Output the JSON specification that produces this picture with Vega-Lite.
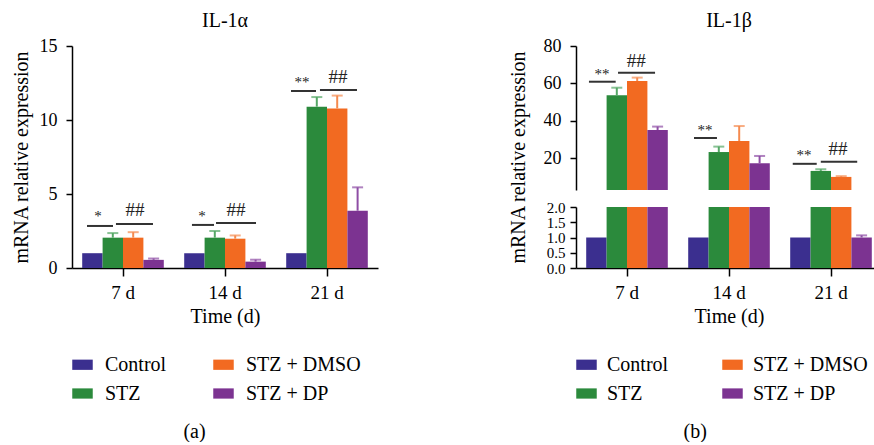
{
  "$schema": "https://vega.github.io/schema/vega-lite/v6.json",
  "padding": {"left": 11, "top": 11, "right": 0, "bottom": 0},
  "background": "white",
  "datasets": {
    "bars": [
      {"panel": "a", "time": "7 d", "group": "Control", "value": 1, "upper": 1},
      {"panel": "a", "time": "7 d", "group": "STZ", "value": 2.05, "upper": 2.36},
      {"panel": "a", "time": "7 d", "group": "STZ + DMSO", "value": 2.05, "upper": 2.42},
      {"panel": "a", "time": "7 d", "group": "STZ + DP", "value": 0.55, "upper": 0.64},
      {"panel": "a", "time": "14 d", "group": "Control", "value": 1, "upper": 1},
      {"panel": "a", "time": "14 d", "group": "STZ", "value": 2.05, "upper": 2.5},
      {"panel": "a", "time": "14 d", "group": "STZ + DMSO", "value": 1.98, "upper": 2.2},
      {"panel": "a", "time": "14 d", "group": "STZ + DP", "value": 0.43, "upper": 0.56},
      {"panel": "a", "time": "21 d", "group": "Control", "value": 1, "upper": 1},
      {"panel": "a", "time": "21 d", "group": "STZ", "value": 10.9, "upper": 11.55},
      {"panel": "a", "time": "21 d", "group": "STZ + DMSO", "value": 10.78, "upper": 11.65},
      {"panel": "a", "time": "21 d", "group": "STZ + DP", "value": 3.87, "upper": 5.45},
      {"panel": "b", "time": "7 d", "group": "Control", "value": 1, "upper": 1},
      {"panel": "b", "time": "7 d", "group": "STZ", "value": 53.6, "upper": 57.7},
      {"panel": "b", "time": "7 d", "group": "STZ + DMSO", "value": 61.3, "upper": 63.1},
      {"panel": "b", "time": "7 d", "group": "STZ + DP", "value": 35.1, "upper": 36.9},
      {"panel": "b", "time": "14 d", "group": "Control", "value": 1, "upper": 1},
      {"panel": "b", "time": "14 d", "group": "STZ", "value": 23.3, "upper": 26.2},
      {"panel": "b", "time": "14 d", "group": "STZ + DMSO", "value": 29.2, "upper": 37.2},
      {"panel": "b", "time": "14 d", "group": "STZ + DP", "value": 17.3, "upper": 21.2},
      {"panel": "b", "time": "21 d", "group": "Control", "value": 1, "upper": 1},
      {"panel": "b", "time": "21 d", "group": "STZ", "value": 13.2, "upper": 14.1},
      {"panel": "b", "time": "21 d", "group": "STZ + DMSO", "value": 10.0, "upper": 10.4},
      {"panel": "b", "time": "21 d", "group": "STZ + DP", "value": 1.0, "upper": 1.07}
    ],
    "lines": [
      {"panel": "a", "x1": 0.147, "x2": 0.402, "y": 2.84},
      {"panel": "a", "x1": 0.431, "x2": 0.794, "y": 2.97},
      {"panel": "a", "x1": 1.176, "x2": 1.392, "y": 2.91},
      {"panel": "a", "x1": 1.412, "x2": 1.804, "y": 3.04},
      {"panel": "a", "x1": 2.147, "x2": 2.392, "y": 11.96},
      {"panel": "a", "x1": 2.431, "x2": 2.794, "y": 12.03},
      {"panel": "b", "x1": 0.127, "x2": 0.389, "y": 60.9},
      {"panel": "b", "x1": 0.412, "x2": 0.775, "y": 65.7},
      {"panel": "b", "x1": 1.157, "x2": 1.382, "y": 30.8},
      {"panel": "b", "x1": 2.125, "x2": 2.36, "y": 17.0},
      {"panel": "b", "x1": 2.4, "x2": 2.757, "y": 18.1}
    ],
    "labels": [
      {"panel": "a", "kind": "star", "label": "*", "x": 0.255, "y": 3.18},
      {"panel": "a", "kind": "hash", "label": "##", "x": 0.618, "y": 3.51},
      {"panel": "a", "kind": "star", "label": "*", "x": 1.275, "y": 3.18},
      {"panel": "a", "kind": "hash", "label": "##", "x": 1.608, "y": 3.51},
      {"panel": "a", "kind": "star", "label": "**", "x": 2.255, "y": 12.23},
      {"panel": "a", "kind": "hash", "label": "##", "x": 2.608, "y": 12.53},
      {"panel": "b", "kind": "star", "label": "**", "x": 0.255, "y": 62.35},
      {"panel": "b", "kind": "hash", "label": "##", "x": 0.591, "y": 68.8},
      {"panel": "b", "kind": "star", "label": "**", "x": 1.265, "y": 32.4},
      {"panel": "b", "kind": "star", "label": "**", "x": 2.235, "y": 18.8},
      {"panel": "b", "kind": "hash", "label": "##", "x": 2.569, "y": 21.7}
    ]
  },
  "hconcat": [
    {
      "title": {"text": "(a)", "orient": "bottom", "offset": 18, "anchor": "middle"},
      "vconcat": [
        {
          "title": {"text": "IL-1α", "offset": 6},
          "width": 306,
          "height": 222,
          "layer": [
            {
              "data": {"name": "bars"},
              "transform": [{"filter": "datum.panel == 'a'"}],
              "layer": [
                {
                  "mark": {"type": "bar"},
                  "encoding": {
                    "x": {"field": "time", "type": "nominal", "sort": ["7 d", "14 d", "21 d"],
                      "scale": {"paddingInner": 0.2, "paddingOuter": 0.1},
                      "axis": {"labelAngle": 0, "title": "Time (d)", "labelPadding": 7, "titlePadding": 4, "tickSize": 8, "labelFontSize": 19, "labelFont": "Liberation Serif", "titleFont": "Liberation Serif"}},
                    "xOffset": {"field": "group", "type": "nominal", "sort": ["Control", "STZ", "STZ + DMSO", "STZ + DP"],
                      "scale": {"paddingInner": 0, "paddingOuter": 0}},
                    "y": {"field": "value", "type": "quantitative", "stack": null,
                      "scale": {"domain": [0, 15], "nice": false},
                      "axis": {"values": [0, 5, 10, 15], "title": "mRNA relative expression", "labelPadding": 9, "titlePadding": 8, "labelFlush": false, "labelFont": "Liberation Serif", "titleFont": "Liberation Serif"}},
                    "color": {"field": "group", "type": "nominal",
                      "scale": {"domain": ["Control", "STZ + DMSO", "STZ", "STZ + DP"], "range": ["#3b2f8f", "#f26a21", "#2b8a3c", "#7c3391"]},
                      "legend": {"columnPadding": 46, "labelFont": "Liberation Serif", "labelFontSize": 20}}
                  }
                },
                {
                  "transform": [{"filter": "datum.upper > datum.value"}],
                  "mark": {"type": "rule", "strokeWidth": 2},
                  "encoding": {
                    "x": {"field": "time", "type": "nominal", "sort": ["7 d", "14 d", "21 d"]},
                    "xOffset": {"field": "group", "type": "nominal", "sort": ["Control", "STZ", "STZ + DMSO", "STZ + DP"]},
                    "y": {"field": "value", "type": "quantitative"},
                    "y2": {"field": "upper"},
                    "stroke": {"field": "group", "type": "nominal",
                      "scale": {"domain": ["Control", "STZ", "STZ + DMSO", "STZ + DP"], "range": ["#3b2f8f", "#55a866", "#f58a4e", "#8e4ea5"]},
                      "legend": null}
                  }
                },
                {
                  "transform": [{"filter": "datum.upper > datum.value"}],
                  "mark": {"type": "tick", "thickness": 2, "size": 11},
                  "encoding": {
                    "x": {"field": "time", "type": "nominal", "sort": ["7 d", "14 d", "21 d"]},
                    "xOffset": {"field": "group", "type": "nominal", "sort": ["Control", "STZ", "STZ + DMSO", "STZ + DP"]},
                    "y": {"field": "upper", "type": "quantitative"},
                    "fill": {"field": "group", "type": "nominal",
                      "scale": {"domain": ["Control", "STZ", "STZ + DMSO", "STZ + DP"], "range": ["#3b2f8f", "#55a866", "#f58a4e", "#8e4ea5"]},
                      "legend": null}
                  }
                }
              ]
            },
            {
              "layer": [
                {
                  "data": {"name": "lines"},
                  "transform": [{"filter": "datum.panel == 'a'"}],
                  "mark": {"type": "rule", "strokeWidth": 2, "color": "#333333"},
                  "encoding": {
                    "x": {"field": "x1", "type": "quantitative", "scale": {"domain": [0, 3], "nice": false, "zero": false}, "axis": null},
                    "x2": {"field": "x2"},
                    "y": {"field": "y", "type": "quantitative"}
                  }
                },
                {
                  "data": {"name": "labels"},
                  "transform": [{"filter": "datum.panel == 'a' && datum.kind == 'star'"}],
                  "mark": {"type": "text", "fontSize": 15, "align": "center", "baseline": "alphabetic", "color": "#222222", "font": "Liberation Serif"},
                  "encoding": {
                    "x": {"field": "x", "type": "quantitative", "axis": null},
                    "y": {"field": "y", "type": "quantitative"},
                    "text": {"field": "label"}
                  }
                },
                {
                  "data": {"name": "labels"},
                  "transform": [{"filter": "datum.panel == 'a' && datum.kind == 'hash'"}],
                  "mark": {"type": "text", "fontSize": 19, "align": "center", "baseline": "alphabetic", "color": "#222222", "font": "Liberation Serif"},
                  "encoding": {
                    "x": {"field": "x", "type": "quantitative", "axis": null},
                    "y": {"field": "y", "type": "quantitative"},
                    "text": {"field": "label"}
                  }
                }
              ]
            }
          ],
          "resolve": {"scale": {"x": "independent"}}
        }
      ]
    },
    {
      "title": {"text": "(b)", "orient": "bottom", "offset": 18, "anchor": "middle"},
      "vconcat": [
        {
          "title": {"text": "IL-1β", "offset": 6},
          "width": 306,
          "height": 222,
          "layer": [
            {
              "data": {"name": "bars"},
              "transform": [{"filter": "datum.panel == 'b' && datum.value > 3"}],
              "layer": [
                {
                  "mark": {"type": "bar"},
                  "encoding": {
                    "x": {"field": "time", "type": "nominal", "sort": ["7 d", "14 d", "21 d"],
                      "scale": {"paddingInner": 0.2, "paddingOuter": 0.1}, "axis": null},
                    "xOffset": {"field": "group", "type": "nominal", "sort": ["Control", "STZ", "STZ + DMSO", "STZ + DP"],
                      "scale": {"domain": ["Control", "STZ", "STZ + DMSO", "STZ + DP"], "paddingInner": 0, "paddingOuter": 0}},
                    "y": {"field": "value", "type": "quantitative",
                      "scale": {"domain": [3, 80], "range": [144, 0], "nice": false, "zero": false, "clamp": true},
                      "axis": {"orient": "left", "values": [20, 40, 60, 80], "title": null, "labelPadding": 9, "labelFlush": false, "labelFont": "Liberation Serif"}},
                    "y2": {"datum": 3},
                    "color": {"field": "group", "type": "nominal",
                      "scale": {"domain": ["Control", "STZ + DMSO", "STZ", "STZ + DP"], "range": ["#3b2f8f", "#f26a21", "#2b8a3c", "#7c3391"]},
                      "legend": {"columnPadding": 53, "labelOffset": 10, "labelFont": "Liberation Serif", "labelFontSize": 20}}
                  }
                },
                {
                  "transform": [{"filter": "datum.upper > datum.value"}],
                  "mark": {"type": "rule", "strokeWidth": 2},
                  "encoding": {
                    "x": {"field": "time", "type": "nominal", "sort": ["7 d", "14 d", "21 d"]},
                    "xOffset": {"field": "group", "type": "nominal", "sort": ["Control", "STZ", "STZ + DMSO", "STZ + DP"]},
                    "y": {"field": "value", "type": "quantitative"},
                    "y2": {"field": "upper"},
                    "stroke": {"field": "group", "type": "nominal",
                      "scale": {"domain": ["Control", "STZ", "STZ + DMSO", "STZ + DP"], "range": ["#3b2f8f", "#55a866", "#f58a4e", "#8e4ea5"]},
                      "legend": null}
                  }
                },
                {
                  "transform": [{"filter": "datum.upper > datum.value"}],
                  "mark": {"type": "tick", "thickness": 2, "size": 11},
                  "encoding": {
                    "x": {"field": "time", "type": "nominal", "sort": ["7 d", "14 d", "21 d"]},
                    "xOffset": {"field": "group", "type": "nominal", "sort": ["Control", "STZ", "STZ + DMSO", "STZ + DP"]},
                    "y": {"field": "upper", "type": "quantitative"},
                    "fill": {"field": "group", "type": "nominal",
                      "scale": {"domain": ["Control", "STZ", "STZ + DMSO", "STZ + DP"], "range": ["#3b2f8f", "#55a866", "#f58a4e", "#8e4ea5"]},
                      "legend": null}
                  }
                }
              ]
            },
            {
              "data": {"name": "bars"},
              "transform": [{"filter": "datum.panel == 'b'"}],
              "layer": [
                {
                  "mark": {"type": "bar"},
                  "encoding": {
                    "x": {"field": "time", "type": "nominal", "sort": ["7 d", "14 d", "21 d"],
                      "scale": {"paddingInner": 0.2, "paddingOuter": 0.1},
                      "axis": {"orient": "bottom", "labelAngle": 0, "title": "Time (d)", "labelPadding": 7, "titlePadding": 4, "tickSize": 8, "labelFontSize": 19, "labelFont": "Liberation Serif", "titleFont": "Liberation Serif"}},
                    "xOffset": {"field": "group", "type": "nominal", "sort": ["Control", "STZ", "STZ + DMSO", "STZ + DP"],
                      "scale": {"paddingInner": 0, "paddingOuter": 0}},
                    "y": {"field": "value", "type": "quantitative",
                      "scale": {"domain": [0, 2], "range": [222, 161], "nice": false, "clamp": true},
                      "axis": {"orient": "left", "values": [0, 0.5, 1, 1.5, 2], "format": ".1f", "labelOverlap": false, "labelFlush": false, "labelPadding": 5, "labelFontSize": 15, "labelFont": "Liberation Serif",
                        "title": "mRNA relative expression", "titleFont": "Liberation Serif", "titlePadding": 18, "titleY": 111}},
                    "y2": {"datum": 0},
                    "color": {"field": "group", "type": "nominal",
                      "scale": {"domain": ["Control", "STZ + DMSO", "STZ", "STZ + DP"], "range": ["#3b2f8f", "#f26a21", "#2b8a3c", "#7c3391"]},
                      "legend": {"columnPadding": 53, "labelOffset": 10, "labelFont": "Liberation Serif", "labelFontSize": 20}}
                  }
                },
                {
                  "transform": [{"filter": "datum.upper > datum.value && datum.value <= 2"}],
                  "mark": {"type": "rule", "strokeWidth": 2},
                  "encoding": {
                    "x": {"field": "time", "type": "nominal", "sort": ["7 d", "14 d", "21 d"]},
                    "xOffset": {"field": "group", "type": "nominal", "sort": ["Control", "STZ", "STZ + DMSO", "STZ + DP"]},
                    "y": {"field": "value", "type": "quantitative"},
                    "y2": {"field": "upper"},
                    "stroke": {"field": "group", "type": "nominal",
                      "scale": {"domain": ["Control", "STZ", "STZ + DMSO", "STZ + DP"], "range": ["#3b2f8f", "#55a866", "#f58a4e", "#8e4ea5"]},
                      "legend": null}
                  }
                },
                {
                  "transform": [{"filter": "datum.upper > datum.value && datum.value <= 2"}],
                  "mark": {"type": "tick", "thickness": 2, "size": 11},
                  "encoding": {
                    "x": {"field": "time", "type": "nominal", "sort": ["7 d", "14 d", "21 d"]},
                    "xOffset": {"field": "group", "type": "nominal", "sort": ["Control", "STZ", "STZ + DMSO", "STZ + DP"]},
                    "y": {"field": "upper", "type": "quantitative"},
                    "fill": {"field": "group", "type": "nominal",
                      "scale": {"domain": ["Control", "STZ", "STZ + DMSO", "STZ + DP"], "range": ["#3b2f8f", "#55a866", "#f58a4e", "#8e4ea5"]},
                      "legend": null}
                  }
                }
              ]
            },
            {
              "layer": [
                {
                  "data": {"name": "lines"},
                  "transform": [{"filter": "datum.panel == 'b'"}],
                  "mark": {"type": "rule", "strokeWidth": 2, "color": "#333333"},
                  "encoding": {
                    "x": {"field": "x1", "type": "quantitative", "scale": {"domain": [0, 3], "nice": false, "zero": false}, "axis": null},
                    "x2": {"field": "x2"},
                    "y": {"field": "y", "type": "quantitative", "scale": {"domain": [3, 80], "range": [144, 0], "nice": false, "zero": false}, "axis": null}
                  }
                },
                {
                  "data": {"name": "labels"},
                  "transform": [{"filter": "datum.panel == 'b' && datum.kind == 'star'"}],
                  "mark": {"type": "text", "fontSize": 15, "align": "center", "baseline": "alphabetic", "color": "#222222", "font": "Liberation Serif"},
                  "encoding": {
                    "x": {"field": "x", "type": "quantitative", "axis": null},
                    "y": {"field": "y", "type": "quantitative", "axis": null},
                    "text": {"field": "label"}
                  }
                },
                {
                  "data": {"name": "labels"},
                  "transform": [{"filter": "datum.panel == 'b' && datum.kind == 'hash'"}],
                  "mark": {"type": "text", "fontSize": 19, "align": "center", "baseline": "alphabetic", "color": "#222222", "font": "Liberation Serif"},
                  "encoding": {
                    "x": {"field": "x", "type": "quantitative", "axis": null},
                    "y": {"field": "y", "type": "quantitative", "axis": null},
                    "text": {"field": "label"}
                  }
                }
              ]
            }
          ],
          "resolve": {"scale": {"x": "independent", "y": "independent"}}
        }
      ]
    }
  ],
  "spacing": 130,
  "resolve": {"scale": {"color": "independent", "stroke": "independent", "fill": "independent"}, "legend": {"color": "independent"}},
  "config": {
    "font": "Liberation Serif",
    "view": {"stroke": null},
    "axis": {
      "grid": false, "domainColor": "#000000", "domainWidth": 1.5, "tickColor": "#000000", "tickWidth": 1.5, "tickSize": 6,
      "labelFont": "Liberation Serif", "labelFontSize": 18, "labelColor": "#000000",
      "titleFont": "Liberation Serif", "titleFontSize": 20, "titleFontWeight": "normal", "titleColor": "#000000"
    },
    "title": {"font": "Liberation Serif", "fontSize": 20, "fontWeight": "normal", "color": "#000000"},
    "legend": {
      "orient": "bottom", "columns": 2, "title": null, "offset": 28,
      "labelFont": "Liberation Serif", "labelFontSize": 20, "labelColor": "#000000", "labelLimit": 300,
      "symbolType": "M-1,-0.5H1V0.5H-1Z", "symbolSize": 420, "symbolStrokeWidth": 0, "symbolOpacity": 1,
      "rowPadding": 8, "labelOffset": 12
    },
    "text": {"font": "Liberation Serif"}
  }
}
